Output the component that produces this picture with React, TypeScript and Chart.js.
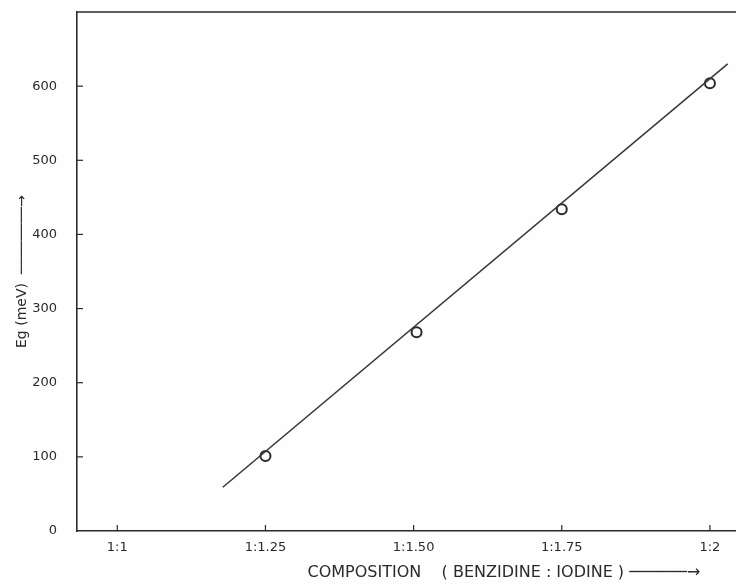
import React, { useEffect, useRef } from 'react';
import { Chart, registerables } from 'chart.js';
Chart.register(...registerables);

const compositionTicks = [1, 1.25, 1.5, 1.75, 2];
const compositionLabels = ['1:1', '1:1.25', '1:1.50', '1:1.75', '1:2'];
const measuredX = [1.25, 1.505, 1.75, 2];
const measuredEg = [101, 268, 434, 604];
const fitX = [1.178, 2.03];
const fitEg = [59, 630];
const egTicks = [0, 100, 200, 300, 400, 500, 600];

const INK = '#2a2a2a';
const FONT = 'DejaVu Sans';

const frameAndTicks = {
  id: 'frameAndTicks',
  afterDatasetsDraw(chart: any) {
    const { ctx, chartArea, scales } = chart;
    ctx.save();
    ctx.strokeStyle = INK;
    ctx.lineWidth = 1.6;
    ctx.beginPath();
    ctx.moveTo(chartArea.left, chartArea.top);
    ctx.lineTo(chartArea.right, chartArea.top);
    ctx.stroke();
    ctx.lineWidth = 1.2;
    egTicks.forEach((v) => {
      if (v === 0) return;
      const y = scales.y.getPixelForValue(v);
      ctx.beginPath();
      ctx.moveTo(chartArea.left, y);
      ctx.lineTo(chartArea.left + 6, y);
      ctx.stroke();
    });
    compositionTicks.forEach((v) => {
      const x = scales.x.getPixelForValue(v);
      ctx.beginPath();
      ctx.moveTo(x, chartArea.bottom);
      ctx.lineTo(x, chartArea.bottom - 6);
      ctx.stroke();
    });
    ctx.restore();
  },
};

export default function App() {
  const ref = useRef<HTMLCanvasElement>(null);
  useEffect(() => {
    if (!ref.current) return;
    const chart = new Chart(ref.current, {
      type: 'scatter',
      data: {
        datasets: [
          {
            label: 'fit',
            data: fitX.map((x, i) => ({ x, y: fitEg[i] })),
            showLine: true,
            borderColor: '#3a3a3a',
            borderWidth: 1.6,
            pointRadius: 0,
          },
          {
            label: 'measured',
            data: measuredX.map((x, i) => ({ x, y: measuredEg[i] })),
            showLine: false,
            pointRadius: 5,
            pointBorderWidth: 2,
            pointBorderColor: INK,
            pointBackgroundColor: 'rgba(0,0,0,0)',
          },
        ],
      },
      plugins: [frameAndTicks],
      options: {
        animation: false,
        responsive: false,
        maintainAspectRatio: false,
        layout: { autoPadding: false, padding: { left: 0, right: 0, top: 12, bottom: 0 } },
        plugins: { legend: { display: false }, tooltip: { enabled: false } },
        scales: {
          x: {
            type: 'linear',
            min: 0.932,
            max: 2.044,
            afterBuildTicks: (s: any) => {
              s.ticks = compositionTicks.map((v) => ({ value: v }));
            },
            afterFit: (s: any) => {
              s.height = 55;
              s.paddingLeft = 0;
              s.paddingRight = 0;
            },
            ticks: {
              color: INK,
              font: { family: FONT, size: 13 },
              padding: 9,
              maxRotation: 0,
              callback: (v: any) => {
                const i = compositionTicks.indexOf(Number(v));
                return i >= 0 ? compositionLabels[i] : '';
              },
            },
            grid: { drawOnChartArea: false, drawTicks: false },
            border: { display: true, color: INK, width: 1.6 },
            title: {
              display: true,
              text: 'COMPOSITION    ( BENZIDINE : IODINE )\u00a0' + '\u2500'.repeat(6) + '\u2192' + '\u00a0'.repeat(7),
              color: INK,
              font: { family: FONT, size: 16 },
              align: 'end',
              padding: { top: 5 },
            },
          },
          y: {
            type: 'linear',
            min: 0,
            max: 700,
            afterBuildTicks: (s: any) => {
              s.ticks = egTicks.map((v) => ({ value: v }));
            },
            afterFit: (s: any) => {
              s.width = 77;
              s.paddingTop = 0;
              s.paddingBottom = 0;
            },
            ticks: {
              color: INK,
              font: { family: FONT, size: 13 },
              padding: 20,
            },
            grid: { drawOnChartArea: false, drawTicks: false },
            border: { display: true, color: INK, width: 1.6 },
            title: {
              display: true,
              text: 'Eg (meV)\u00a0\u00a0' + '\u2500'.repeat(8) + '\u2192',
              color: INK,
              font: { family: FONT, size: 14 },
              padding: { bottom: 0, top: 14 },
            },
          },
        },
      },
    } as any);
    return () => chart.destroy();
  }, []);
  return (
    <div style={{ position: 'fixed', left: 0, top: 0, width: 736, height: 586, background: '#fefefe' }}>
      <canvas ref={ref} width={736} height={586} style={{ width: 736, height: 586 }} />
    </div>
  );
}
